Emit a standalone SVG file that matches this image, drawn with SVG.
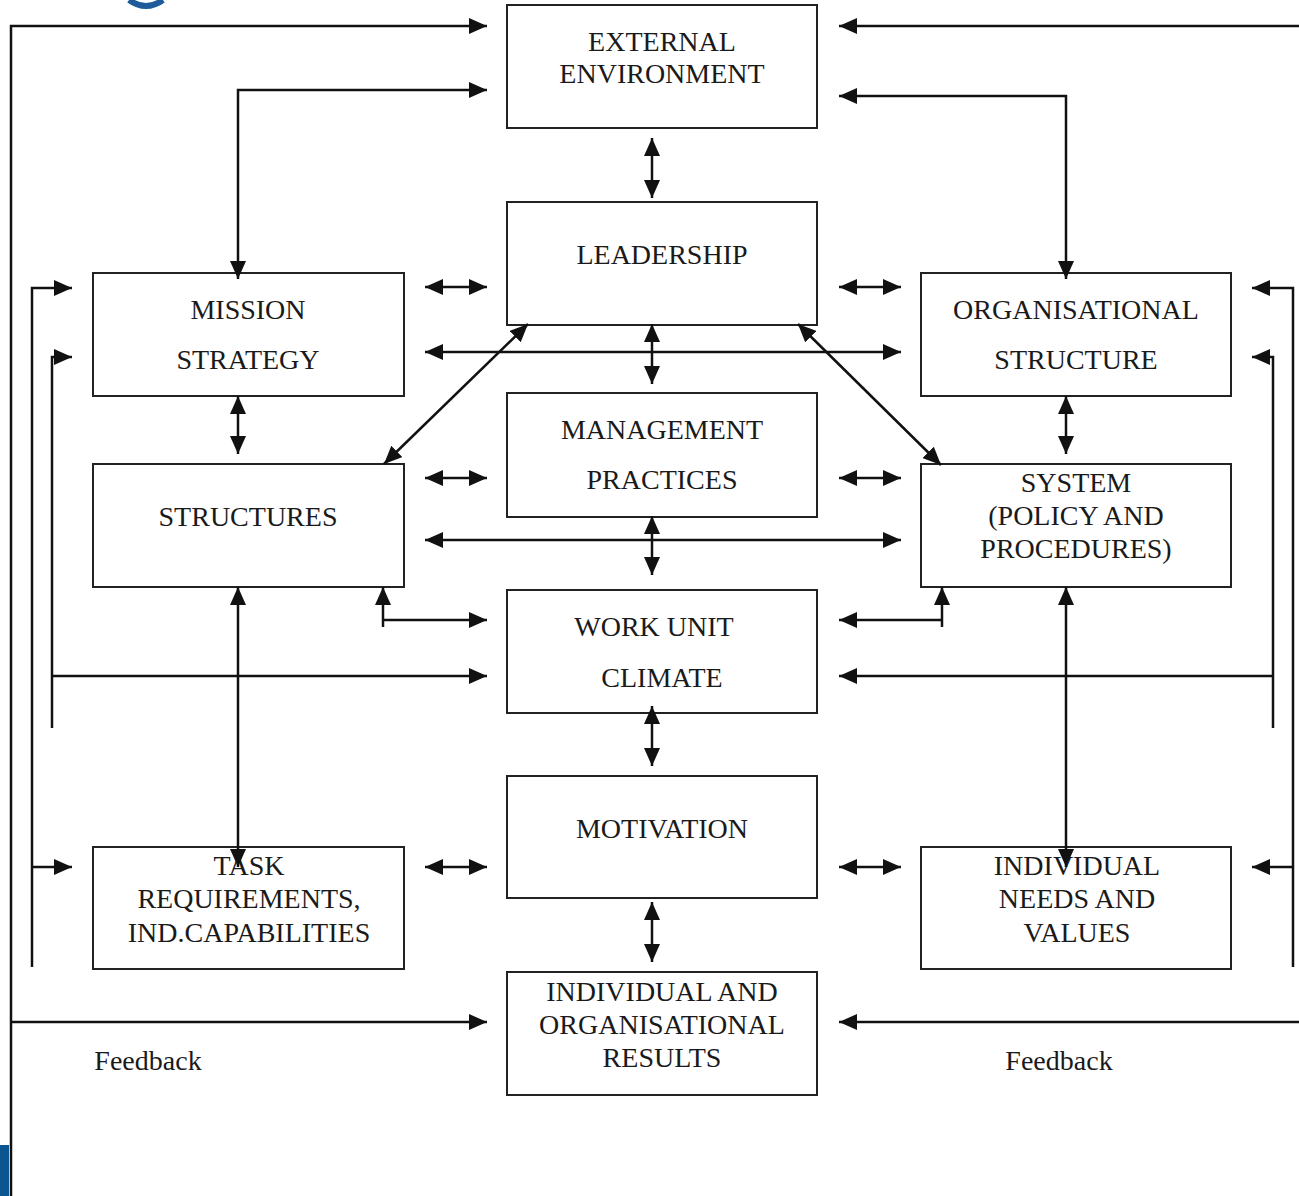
<svg xmlns="http://www.w3.org/2000/svg" width="1299" height="1196" viewBox="0 0 1299 1196">
<style>
.box{fill:#fff;stroke:#222;stroke-width:2}
.t{font-family:"Liberation Serif","Times New Roman",serif;font-size:28px;fill:#1a1a1a;text-anchor:middle}
.c{fill:none;stroke:#111;stroke-width:2.5}
.e{marker-end:url(#ah)}
.b{marker-start:url(#ah);marker-end:url(#ah)}
</style>
<defs>
<marker id="ah" markerUnits="userSpaceOnUse" markerWidth="18" markerHeight="16" refX="18" refY="8" orient="auto-start-reverse">
<path d="M0,0 L18,8 L0,16 z" fill="#111"/>
</marker>
</defs>
<rect width="1299" height="1196" fill="#fff"/>
<path d="M129,0 Q146,12 163,0" fill="none" stroke="#1f5b99" stroke-width="6"/>
<rect x="0" y="1145" width="9" height="51" fill="#0b5591"/>

<g id="external">
<rect class="box" x="507" y="5" width="310" height="123"/>
<text class="t" x="662" y="51">EXTERNAL</text>
<text class="t" x="662" y="83">ENVIRONMENT</text>
</g>
<g id="leadership">
<rect class="box" x="507" y="202" width="310" height="123"/>
<text class="t" x="662" y="264">LEADERSHIP</text>
</g>
<g id="management">
<rect class="box" x="507" y="393" width="310" height="124"/>
<text class="t" x="662" y="439">MANAGEMENT</text>
<text class="t" x="662" y="489">PRACTICES</text>
</g>
<g id="workunit">
<rect class="box" x="507" y="590" width="310" height="123"/>
<text class="t" x="654" y="636">WORK UNIT</text>
<text class="t" x="662" y="687">CLIMATE</text>
</g>
<g id="motivation">
<rect class="box" x="507" y="776" width="310" height="122"/>
<text class="t" x="662" y="838">MOTIVATION</text>
</g>
<g id="results">
<rect class="box" x="507" y="972" width="310" height="123"/>
<text class="t" x="662" y="1001">INDIVIDUAL AND</text>
<text class="t" x="662" y="1034">ORGANISATIONAL</text>
<text class="t" x="662" y="1067">RESULTS</text>
</g>
<g id="mission">
<rect class="box" x="93" y="273" width="311" height="123"/>
<text class="t" x="248" y="319">MISSION</text>
<text class="t" x="248" y="369">STRATEGY</text>
</g>
<g id="structures">
<rect class="box" x="93" y="464" width="311" height="123"/>
<text class="t" x="248" y="526">STRUCTURES</text>
</g>
<g id="task">
<rect class="box" x="93" y="847" width="311" height="122"/>
<text class="t" x="249" y="875">TASK</text>
<text class="t" x="249" y="908">REQUIREMENTS,</text>
<text class="t" x="249" y="942">IND.CAPABILITIES</text>
</g>
<g id="orgstructure">
<rect class="box" x="921" y="273" width="310" height="123"/>
<text class="t" x="1076" y="319">ORGANISATIONAL</text>
<text class="t" x="1076" y="369">STRUCTURE</text>
</g>
<g id="system">
<rect class="box" x="921" y="464" width="310" height="123"/>
<text class="t" x="1076" y="492">SYSTEM</text>
<text class="t" x="1076" y="525">(POLICY AND</text>
<text class="t" x="1076" y="558">PROCEDURES)</text>
</g>
<g id="individual">
<rect class="box" x="921" y="847" width="310" height="122"/>
<text class="t" x="1077" y="875">INDIVIDUAL</text>
<text class="t" x="1077" y="908">NEEDS AND</text>
<text class="t" x="1077" y="942">VALUES</text>
</g>
<g id="feedback-left"><text class="t" x="148" y="1070">Feedback</text></g>
<g id="feedback-right"><text class="t" x="1059" y="1070">Feedback</text></g>

<g id="connectors">
<path class="c e" d="M11,1196 V26 H487"/>
<path class="c e" d="M11,1022 H487"/>
<path class="c e" d="M1299,26 H839"/>
<path class="c e" d="M1299,1022 H839"/>
<path class="c b" d="M238,279 V90 H487"/>
<path class="c b" d="M1066,279 V96 H839"/>
<path class="c b" d="M652,138 V198"/>
<path class="c b" d="M652,324 V384"/>
<path class="c b" d="M652,516 V575"/>
<path class="c b" d="M652,706 V766"/>
<path class="c b" d="M652,902 V962"/>
<path class="c b" d="M425,287 H487"/>
<path class="c b" d="M425,478 H487"/>
<path class="c b" d="M425,867 H487"/>
<path class="c b" d="M839,287 H901"/>
<path class="c b" d="M839,478 H901"/>
<path class="c b" d="M839,867 H901"/>
<path class="c b" d="M425,352 H901"/>
<path class="c b" d="M425,540 H901"/>
<path class="c b" d="M528,324 L384,464"/>
<path class="c b" d="M798,324 L941,465"/>
<path class="c b" d="M238,396 V454"/>
<path class="c b" d="M1066,396 V454"/>
<path class="c b" d="M238,587 V867"/>
<path class="c b" d="M1066,587 V867"/>
<path class="c e" d="M383,627 V587"/>
<path class="c e" d="M383,620 H487"/>
<path class="c e" d="M942,627 V587"/>
<path class="c e" d="M942,620 H839"/>
<path class="c e" d="M52,676 H487"/>
<path class="c e" d="M1273,676 H839"/>
<path class="c e" d="M52,728 V357 H72"/>
<path class="c e" d="M32,967 V288 H72"/>
<path class="c e" d="M32,867 H72"/>
<path class="c e" d="M1273,728 V357 H1252"/>
<path class="c e" d="M1293,967 V288 H1252"/>
<path class="c e" d="M1293,867 H1252"/>
</g>
</svg>
